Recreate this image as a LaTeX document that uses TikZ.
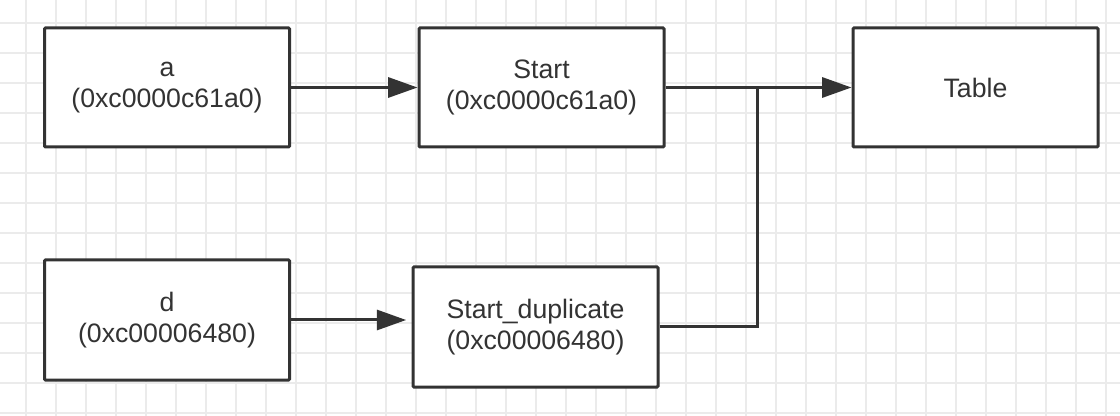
\documentclass[tikz,border=0pt]{standalone}
\usepackage{fontspec}
\setmainfont{Liberation Sans}
\usetikzlibrary{arrows.meta,calc}
\newdimen\pxu \pxu=0.75pt
\definecolor{ink}{HTML}{333333}
\definecolor{gridc}{HTML}{EBEBEB}
\begin{document}
\begin{tikzpicture}[x=0.75pt,y=-0.75pt,
  box/.style={draw=ink,line width=2.25pt,fill=white,rounded corners=0.8pt,
    minimum width=245\pxu,minimum height=119\pxu,inner sep=0pt,align=center,
    text=ink,font=\fontsize{20pt}{23.25pt}\selectfont},
  arr/.style={draw=ink,line width=2.25pt,-{Triangle[length=22pt,width=15pt]}},
  wire/.style={draw=ink,line width=2.25pt}]
\fill[white] (0,0) rectangle (1120,416);
\useasboundingbox (0,0) rectangle (1120,416);
\foreach \x in {26,56,...,1120} \draw[gridc,line width=1pt] (\x,0) -- (\x,416);
\foreach \y in {23,53,...,416} \draw[gridc,line width=1pt] (0,\y) -- (1120,\y);
\node[box] (a) at (167,87.5) {a\\(0xc0000c61a0)};
\node[box] (s) at (541.5,87.5) {Start\\(0xc0000c61a0)};
\node[box] (t) at (975.5,87.5) {Table};
\node[box,minimum height=120\pxu] (d) at (167,320) {d\\(0xc00006480)};
\node[box,minimum height=120\pxu] (sd) at (535.5,327) {Start\_duplicate\\(0xc00006480)};
\coordinate (j) at (757,87.5);
\draw[arr] (a.east) -- (s.west);
\draw[arr] (s.east) -- (t.west);
\draw[wire] (sd.east) -| (j);
\draw[arr,shorten >=4pt] (d.east) -- (d.east -| sd.west);
\end{tikzpicture}
\end{document}
